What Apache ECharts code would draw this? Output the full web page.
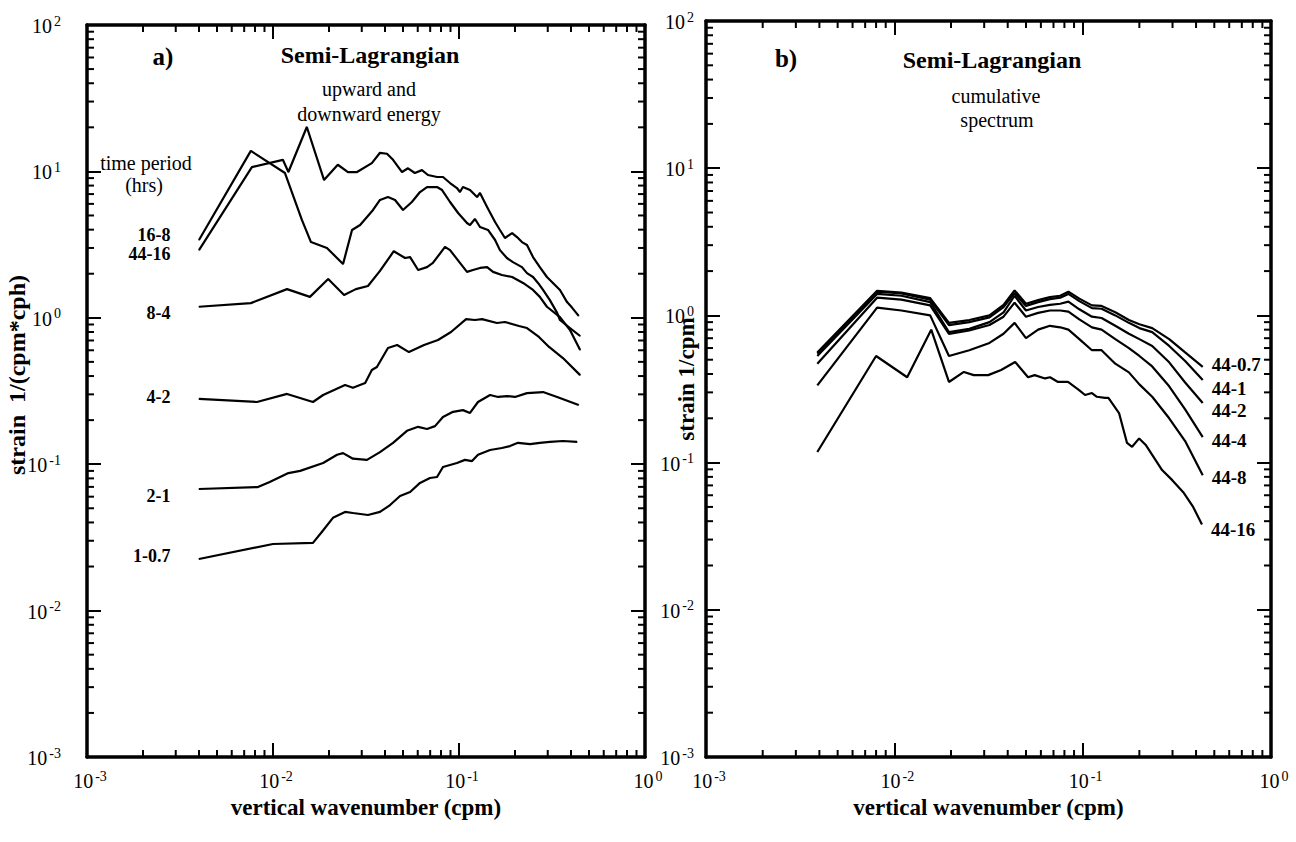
<!DOCTYPE html>
<html><head><meta charset="utf-8">
<script src="https://cdn.jsdelivr.net/npm/echarts/dist/echarts.min.js"></script>
<style>html,body{margin:0;padding:0;background:#fff}#c{width:1296px;height:842px}</style>
</head><body><div id="c"></div>
<script>
// ---------- data: panel a (upward and downward energy), [wavenumber cpm, strain 1/(cpm*cph)]
const a_16_8 = [[0.0040,3.40],[0.0076,13.8],[0.0116,9.75],[0.0143,4.66],[0.016,3.29],[0.0195,3.0],[0.0238,2.33],[0.0266,3.98],[0.0294,4.30],[0.0345,5.45],[0.0376,6.38],[0.0415,6.68],[0.0453,6.38],[0.050,5.45],[0.0558,6.18],[0.0617,7.23],[0.0673,7.82],[0.0762,7.82],[0.0811,7.46],[0.0895,6.18],[0.0989,5.20],[0.1104,4.44],[0.1146,4.30],[0.1219,4.73],[0.1297,4.17],[0.1432,3.98],[0.1563,3.40],[0.166,2.90],[0.181,2.56],[0.195,2.40],[0.218,2.22],[0.232,2.02],[0.250,1.90],[0.266,1.73],[0.283,1.55],[0.308,1.32],[0.337,1.08],[0.349,0.966],[0.395,0.851],[0.448,0.751]];
const a_44_16 = [[0.0040,2.90],[0.0077,10.7],[0.0113,12.0],[0.0121,9.9],[0.0152,20.1],[0.0188,8.74],[0.0223,11.1],[0.0253,9.9],[0.0283,9.9],[0.034,11.4],[0.0376,13.4],[0.041,13.2],[0.0442,12.0],[0.0494,9.9],[0.0532,10.5],[0.0579,9.75],[0.0632,10.2],[0.0681,9.45],[0.0762,9.16],[0.082,9.16],[0.0895,8.33],[0.0975,7.70],[0.1012,7.23],[0.105,7.82],[0.1146,7.46],[0.125,6.68],[0.1297,7.12],[0.1416,5.71],[0.1563,4.51],[0.166,3.98],[0.1766,3.51],[0.193,3.79],[0.205,3.56],[0.218,3.29],[0.232,3.14],[0.250,2.60],[0.272,2.22],[0.297,1.90],[0.320,1.73],[0.349,1.55],[0.381,1.28],[0.406,1.17],[0.44,1.03]];
const a_8_4 = [[0.0040,1.19],[0.0076,1.26],[0.0119,1.57],[0.0158,1.39],[0.0198,1.84],[0.0241,1.43],[0.0279,1.57],[0.0324,1.65],[0.0376,2.09],[0.0446,2.85],[0.0513,2.56],[0.0546,2.60],[0.0603,2.12],[0.0673,2.22],[0.0724,2.37],[0.0841,3.05],[0.0895,2.90],[0.1012,2.37],[0.1104,2.06],[0.1189,2.12],[0.1297,2.19],[0.1416,2.22],[0.1524,2.06],[0.170,1.96],[0.193,1.90],[0.221,1.73],[0.250,1.55],[0.272,1.39],[0.297,1.19],[0.349,1.01],[0.395,0.826],[0.448,0.603]];
const a_4_2 = [[0.0040,0.279],[0.0082,0.266],[0.0119,0.302],[0.0164,0.266],[0.0186,0.297],[0.0244,0.348],[0.0269,0.333],[0.0313,0.359],[0.034,0.44],[0.0362,0.461],[0.0415,0.622],[0.0465,0.652],[0.0538,0.583],[0.0649,0.652],[0.0771,0.705],[0.0906,0.80],[0.1092,0.98],[0.1219,0.966],[0.133,0.98],[0.160,0.921],[0.1766,0.936],[0.210,0.879],[0.232,0.851],[0.269,0.740],[0.305,0.632],[0.362,0.531],[0.448,0.406]];
const a_2_1 = [[0.0040,0.0677],[0.0083,0.0698],[0.0096,0.0755],[0.0121,0.087],[0.014,0.090],[0.0186,0.102],[0.0221,0.116],[0.0238,0.119],[0.0269,0.109],[0.032,0.107],[0.0376,0.121],[0.0442,0.140],[0.0525,0.169],[0.0603,0.180],[0.0673,0.174],[0.0743,0.182],[0.082,0.210],[0.0929,0.228],[0.105,0.234],[0.1146,0.224],[0.1265,0.266],[0.1469,0.297],[0.1622,0.288],[0.181,0.292],[0.200,0.288],[0.232,0.306],[0.283,0.311],[0.337,0.288],[0.44,0.254]];
const a_1_07 = [[0.0040,0.0225],[0.010,0.0285],[0.0164,0.029],[0.0183,0.0344],[0.021,0.043],[0.0244,0.0472],[0.0269,0.0464],[0.0324,0.045],[0.0376,0.0472],[0.0426,0.0526],[0.0482,0.0607],[0.0546,0.0646],[0.0617,0.0745],[0.0698,0.0805],[0.0762,0.0818],[0.082,0.0957],[0.0975,0.102],[0.1076,0.107],[0.1175,0.105],[0.1265,0.116],[0.1469,0.125],[0.170,0.129],[0.188,0.133],[0.2075,0.140],[0.241,0.137],[0.272,0.140],[0.308,0.142],[0.362,0.144],[0.431,0.142]];

// ---------- data: panel b (cumulative spectrum), [wavenumber cpm, strain 1/cpm]
const b_44_07 = [[0.0039,0.56],[0.0081,1.47],[0.0109,1.43],[0.0155,1.31],[0.0195,0.89],[0.025,0.93],[0.032,1.0],[0.038,1.18],[0.0435,1.48],[0.05,1.2],[0.058,1.27],[0.067,1.33],[0.076,1.36],[0.084,1.45],[0.096,1.3],[0.112,1.17],[0.126,1.16],[0.149,1.05],[0.176,0.93],[0.2,0.87],[0.234,0.82],[0.288,0.69],[0.35,0.56],[0.434,0.447]];
const b_44_1 = [[0.0039,0.55],[0.0081,1.45],[0.0109,1.41],[0.0155,1.28],[0.0195,0.86],[0.025,0.9],[0.032,0.97],[0.038,1.14],[0.0435,1.42],[0.05,1.16],[0.058,1.23],[0.067,1.29],[0.076,1.32],[0.084,1.4],[0.096,1.25],[0.112,1.12],[0.126,1.11],[0.149,1.0],[0.176,0.89],[0.2,0.82],[0.234,0.77],[0.288,0.62],[0.35,0.49],[0.434,0.364]];
const b_44_2 = [[0.0039,0.53],[0.0081,1.40],[0.0109,1.36],[0.0155,1.23],[0.0195,0.77],[0.025,0.81],[0.032,0.9],[0.038,1.05],[0.0435,1.36],[0.05,1.08],[0.058,1.14],[0.067,1.18],[0.076,1.2],[0.084,1.24],[0.096,1.1],[0.112,0.98],[0.126,0.96],[0.149,0.85],[0.176,0.75],[0.2,0.69],[0.234,0.62],[0.288,0.48],[0.35,0.35],[0.434,0.254]];
const b_44_4 = [[0.0039,0.47],[0.0081,1.32],[0.0109,1.28],[0.0155,1.17],[0.0195,0.75],[0.025,0.79],[0.032,0.86],[0.038,0.98],[0.0435,1.22],[0.05,0.98],[0.058,1.04],[0.067,1.08],[0.076,1.08],[0.084,1.06],[0.096,0.94],[0.112,0.83],[0.126,0.8],[0.149,0.69],[0.176,0.6],[0.2,0.53],[0.234,0.45],[0.288,0.33],[0.35,0.23],[0.434,0.149]];
const b_44_8 = [[0.0039,0.335],[0.0081,1.13],[0.0109,1.08],[0.0155,1.0],[0.0195,0.53],[0.025,0.58],[0.032,0.65],[0.038,0.75],[0.0435,0.89],[0.05,0.70],[0.058,0.80],[0.067,0.85],[0.076,0.83],[0.084,0.8],[0.096,0.69],[0.112,0.58],[0.126,0.58],[0.149,0.47],[0.176,0.41],[0.2,0.34],[0.234,0.28],[0.288,0.2],[0.35,0.14],[0.434,0.082]];
const b_44_16 = [[0.0039,0.118],[0.008,0.53],[0.0117,0.38],[0.0157,0.80],[0.0195,0.353],[0.0234,0.413],[0.0264,0.393],[0.0315,0.393],[0.0369,0.426],[0.0438,0.482],[0.0513,0.38],[0.0556,0.393],[0.0631,0.373],[0.0671,0.38],[0.074,0.353],[0.0836,0.353],[0.0957,0.311],[0.103,0.288],[0.112,0.297],[0.119,0.28],[0.1315,0.275],[0.137,0.275],[0.156,0.217],[0.172,0.136],[0.183,0.128],[0.1995,0.146],[0.217,0.131],[0.234,0.113],[0.264,0.089],[0.299,0.076],[0.342,0.063],[0.386,0.05],[0.43,0.038]];

// curve labels
const labelsA = ['16-8','44-16','8-4','4-2','2-1','1-0.7'];
const labelsB = ['44-0.7','44-1','44-2','44-4','44-8','44-16'];
// axis ranges (decades)
const X_RANGE = [0.001, 1];
const Y_RANGE = [0.001, 100];

const SERIF = '"Liberation Serif","Times New Roman",serif';

function powLabel(v){
  const e = Math.round(Math.log10(v));
  return '{b|10}{s|' + (e < 0 ? '-' + (-e) : e) + '}';
}
function rich(padLeft){
  return {
    b:{fontFamily:SERIF,fontSize:20,color:'#000',verticalAlign:'bottom',lineHeight:22,padding:[0,0,0,padLeft]},
    s:{fontFamily:SERIF,fontSize:14,color:'#000',verticalAlign:'top',lineHeight:14,padding:[0,0,0,2]}
  };
}
function minorList(lo, hi){
  const out=[];
  for(let e=Math.round(Math.log10(lo)); e<Math.round(Math.log10(hi)); e++)
    for(let m=2;m<=9;m++) out.push(+(m*Math.pow(10,e)).toPrecision(3));
  return out;
}
function xAx(grid, pos, withLabel){
  return {type:'log',logBase:10,gridIndex:grid,min:X_RANGE[0],max:X_RANGE[1],position:pos,
    axisLine:{show:true,onZero:false,lineStyle:{color:'#000',width:3.5}},
    axisTick:{show:true,inside:true,length:14,lineStyle:{color:'#000',width:2}},
    axisLabel:{show:withLabel,margin:12,formatter:powLabel,rich:rich(6)},
    splitLine:{show:false},
    name: withLabel ? 'vertical wavenumber (cpm)' : '',
    nameLocation:'middle',nameGap:22,
    nameTextStyle:{fontFamily:SERIF,fontWeight:'bold',fontSize:23,color:'#000'}};
}
function yAx(grid, pos, withLabel, margin){
  return {type:'log',logBase:10,gridIndex:grid,min:Y_RANGE[0],max:Y_RANGE[1],position:pos,
    axisLine:{show:true,onZero:false,lineStyle:{color:'#000',width:3.5}},
    axisTick:{show:true,inside:true,length:14,lineStyle:{color:'#000',width:2}},
    axisLabel:{show:withLabel,margin:margin,formatter:powLabel,rich:rich(0)},
    splitLine:{show:false}};
}
function minorXSeries(xi, yi){
  return {type:'custom',xAxisIndex:xi,yAxisIndex:yi,silent:true,clip:false,z:5,
    data:minorList(X_RANGE[0],X_RANGE[1]).map(v=>[v,1]),
    renderItem:function(params, api){
      const v=api.value(0);
      const b=api.coord([v,Y_RANGE[0]]), t=api.coord([v,Y_RANGE[1]]);
      const st={stroke:'#000',lineWidth:2};
      return {type:'group',children:[
        {type:'line',shape:{x1:b[0],y1:b[1],x2:b[0],y2:b[1]-7},style:st},
        {type:'line',shape:{x1:t[0],y1:t[1],x2:t[0],y2:t[1]+7},style:st}]};
    }};
}
function minorYSeries(xi, yi){
  return {type:'custom',xAxisIndex:xi,yAxisIndex:yi,silent:true,clip:false,z:5,
    data:minorList(Y_RANGE[0],Y_RANGE[1]).map(v=>[0.01,v]),
    renderItem:function(params, api){
      const v=api.value(1);
      const l=api.coord([X_RANGE[0],v]), r=api.coord([X_RANGE[1],v]);
      const st={stroke:'#000',lineWidth:2};
      return {type:'group',children:[
        {type:'line',shape:{x1:l[0],y1:l[1],x2:l[0]+7,y2:l[1]},style:st},
        {type:'line',shape:{x1:r[0],y1:r[1],x2:r[0]-7,y2:r[1]},style:st}]};
    }};
}
const LINE = {color:'#000',width:2.2};
function seriesA(arr, text, dy){
  return {type:'line',xAxisIndex:0,yAxisIndex:0,symbol:'circle',symbolSize:1,showSymbol:true,
    itemStyle:{color:'#000'},lineStyle:LINE,animation:false,z:3,
    data:arr.map((p,i)=> i===0 ? {value:p,label:{show:true,formatter:text,position:'left',distance:28,offset:[0,dy],
      fontFamily:SERIF,fontWeight:'bold',fontSize:18,lineHeight:14,color:'#000'}} : {value:p})};
}
function seriesB(arr, text, dy){
  return {type:'line',xAxisIndex:2,yAxisIndex:2,showSymbol:false,lineStyle:LINE,animation:false,z:3,
    data:arr,
    endLabel:{show:true,formatter:text,distance:9,offset:[0,dy],fontFamily:SERIF,fontWeight:'bold',fontSize:19,lineHeight:16,color:'#000'}};
}
function txt(x,y,s,size,bold,rot){
  return {type:'text',x:x,y:y,rotation:rot||0,style:{text:s,fill:'#000',
    font:(bold?'bold ':'')+size+'px '+SERIF,textAlign:'center',textVerticalAlign:'middle',align:'center',verticalAlign:'middle'}};
}

const chart = echarts.init(document.getElementById('c'), null, {renderer:'svg'});
chart.setOption({
  animation:false,
  backgroundColor:'#fff',
  grid:[{left:87,right:651,top:25,bottom:85},{left:706,right:25,top:21,bottom:85}],
  xAxis:[xAx(0,'bottom',true),xAx(0,'top',false),xAx(1,'bottom',true),xAx(1,'top',false)],
  yAxis:[yAx(0,'left',true,26),yAx(0,'right',false,0),yAx(1,'left',true,12),yAx(1,'right',false,0)],
  series:[
    minorXSeries(0,0),minorYSeries(0,0),minorXSeries(2,2),minorYSeries(2,2),
    seriesA(a_16_8,labelsA[0],-5),
    seriesA(a_44_16,labelsA[1],4),
    seriesA(a_8_4,labelsA[2],6),
    seriesA(a_4_2,labelsA[3],-2),
    seriesA(a_2_1,labelsA[4],7),
    seriesA(a_1_07,labelsA[5],-3),
    seriesB(b_44_07,labelsB[0],-2),
    seriesB(b_44_1,labelsB[1],8),
    seriesB(b_44_2,labelsB[2],7),
    seriesB(b_44_4,labelsB[3],3),
    seriesB(b_44_8,labelsB[4],2),
    seriesB(b_44_16,labelsB[5],5)
  ],
  graphic:[
    txt(163,56,'a)',25,true),
    txt(370,55,'Semi-Lagrangian',24,true),
    txt(369,89,'upward and',20,false),
    txt(369,114,'downward energy',20,false),
    txt(146,163,'time period',20,false),
    txt(144,185,'(hrs)',20,false),
    txt(786,58,'b)',25,true),
    txt(992,60,'Semi-Lagrangian',24,true),
    txt(996,96,'cumulative',20,false),
    txt(997,120,'spectrum',20,false),
    txt(17,375,'strain  1/(cpm*cph)',24,true,Math.PI/2),
    txt(686,379,'strain 1/cpm',23,true,Math.PI/2)
  ]
});
</script></body></html>
